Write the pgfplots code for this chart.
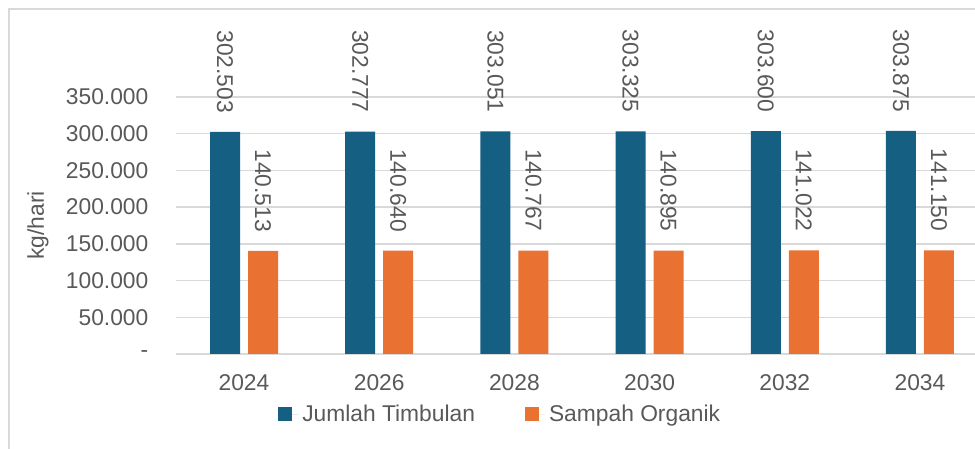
\documentclass[border=0pt]{standalone}
\usepackage{fontspec}
\setmainfont{Liberation Sans}
\usepackage{pgfplots}
\pgfplotsset{compat=1.18}
\definecolor{cblue}{HTML}{156082}
\definecolor{corange}{HTML}{E97132}
\definecolor{ctext}{HTML}{595959}
\definecolor{cgrid}{HTML}{D9D9D9}
\newcommand{\chartfont}{\fontsize{11.4}{13}\selectfont}
\begin{document}
\begin{tikzpicture}[x=1pt,y=1pt]
\path[use as bounding box] (0,0) rectangle (487.5,224.5);
\draw[cgrid, line width=0.7pt] (4.5,0) -- (4.5,220) -- (487.5,220);
\begin{axis}[
  at={(88pt,47.5pt)}, anchor=south west,
  scale only axis, width=399.5pt, height=128.5pt,
  xmin=-0.503, xmax=5.407, ymin=0, ymax=350000,
  axis line style={draw=none},
  major tick length=0pt,
  ymajorgrids, grid style={cgrid, line width=0.75pt},
  ybar=4pt, bar width=15pt,
  xtick={0,...,5}, xticklabels={2024,2026,2028,2030,2032,2034},
  ytick={0,50000,100000,150000,200000,250000,300000,350000},
  yticklabels={-\hspace{10pt},50.000,100.000,150.000,200.000,250.000,300.000,350.000},
  scaled y ticks=false,
  tick label style={font=\chartfont, text=ctext},
  yticklabel style={xshift=-10.3pt},
  xticklabel style={yshift=-7pt},
  ylabel={kg/hari},
  ylabel style={at={(axis description cs:-0.1727,0.5)}, anchor=center, font=\chartfont, text=ctext},
  clip=false,
  nodes near coords,
  point meta=explicit symbolic,
  every node near coord/.append style={rotate=-90, anchor=east, font=\chartfont, text=ctext, inner sep=0pt, outer xsep=9.5pt},
  legend style={at={(axis description cs:0.407,-0.235)}, anchor=center, draw=none, fill=none,
    legend columns=2, font=\chartfont, text=ctext,
    /tikz/every even column/.append style={column sep=23pt}},
  legend cell align=left,
  legend image code/.code={\fill[#1] (0pt,-3.5pt) rectangle (7pt,3.5pt); \path (0pt,0pt) -- (10pt,0pt);},
]
\addplot[fill=cblue, draw=none] coordinates {
 (0,302503) [302.503]
 (1,302777) [302.777]
 (2,303051) [303.051]
 (3,303325) [303.325]
 (4,303600) [303.600]
 (5,303875) [303.875]
};
\addplot[fill=corange, draw=none] coordinates {
 (0,140513) [140.513]
 (1,140640) [140.640]
 (2,140767) [140.767]
 (3,140895) [140.895]
 (4,141022) [141.022]
 (5,141150) [141.150]
};
\legend{Jumlah Timbulan, Sampah Organik}
\end{axis}
\end{tikzpicture}
\end{document}
